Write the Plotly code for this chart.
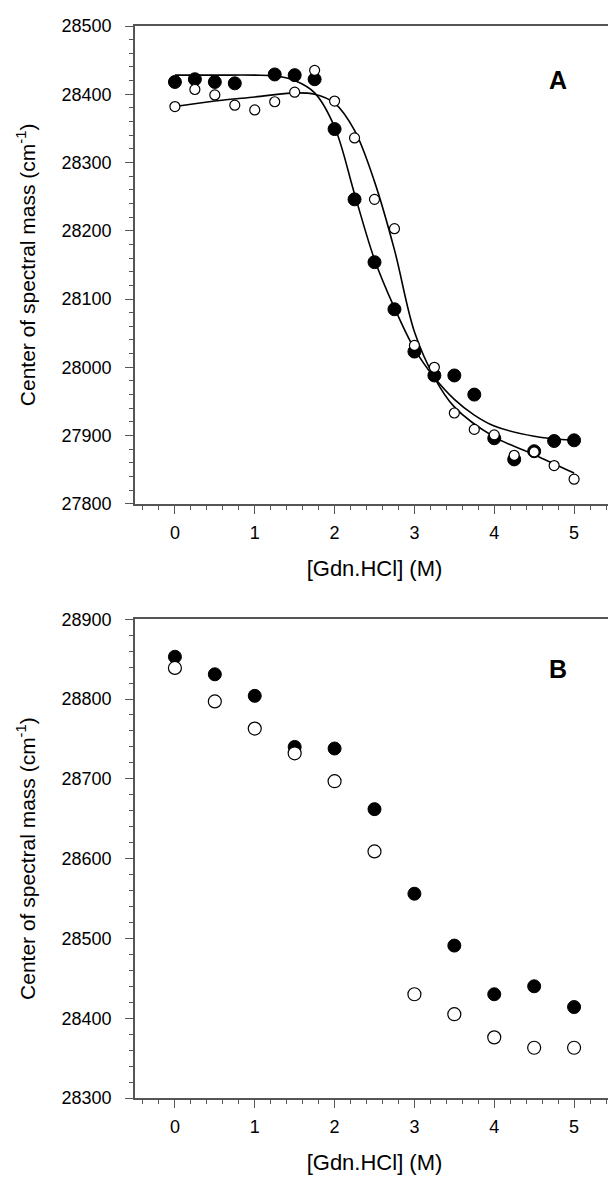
import plotly.graph_objects as go

# ---------------- data ----------------
conc_A = [0, 0.25, 0.5, 0.75, 1.0, 1.25, 1.5, 1.75, 2.0, 2.25, 2.5, 2.75,
          3.0, 3.25, 3.5, 3.75, 4.0, 4.25, 4.5, 4.75, 5.0]
filled_A = [28418, 28422, 28418, 28416, None, 28429, 28428, 28422, 28349, 28246, 28154, 28085,
            28023, 27988, 27988, 27960, 27896, 27865, 27877, 27892, 27893]
open_A = [28382, 28407, 28399, 28384, 28377, 28389, 28403, 28435, 28390, 28336, 28246, 28203,
          28032, 28000, 27933, 27909, 27901, 27871, 27876, 27856, 27836]

fit_filled_x = [0, 0.5, 1.0, 1.25, 1.5, 1.75, 2.0, 2.25, 2.5, 2.75, 3.0, 3.25, 3.5, 3.75, 4.0, 4.5, 5.0]
fit_filled_y = [28428, 28428, 28428, 28427, 28420, 28402, 28352, 28254, 28158, 28087, 28027, 27985,
                27953, 27930, 27914, 27899, 27893]
fit_open_x = [0, 0.5, 1.0, 1.5, 1.75, 2.0, 2.25, 2.5, 2.75, 3.0, 3.25, 3.5, 4.0, 4.5, 5.0]
fit_open_y = [28382, 28390, 28396, 28402, 28400, 28387, 28347, 28272, 28172, 28052, 27985, 27942,
              27898, 27872, 27845]

conc_B = [0, 0.5, 1.0, 1.5, 2.0, 2.5, 3.0, 3.5, 4.0, 4.5, 5.0]
filled_B = [28853, 28831, 28804, 28740, 28738, 28662, 28556, 28491, 28430, 28440, 28414]
open_B = [28839, 28797, 28763, 28732, 28697, 28609, 28430, 28405, 28376, 28363, 28363]

x_ticks = [0, 1, 2, 3, 4, 5]

# ---------------- figure ----------------
FONT = "Liberation Sans, Arial, sans-serif"
AX = "#555555"
fig = go.Figure()

# panel A
fig.add_trace(go.Scatter(x=fit_filled_x, y=fit_filled_y, mode="lines", line=dict(color="black", width=1.6, shape="spline"),
                         xaxis="x", yaxis="y", showlegend=False, hoverinfo="skip"))
fig.add_trace(go.Scatter(x=fit_open_x, y=fit_open_y, mode="lines", line=dict(color="black", width=1.6, shape="spline"),
                         xaxis="x", yaxis="y", showlegend=False, hoverinfo="skip"))
fig.add_trace(go.Scatter(x=conc_A, y=filled_A, mode="markers",
                         marker=dict(symbol="circle", size=13, color="black", line=dict(color="black", width=1)),
                         xaxis="x", yaxis="y", showlegend=False))
fig.add_trace(go.Scatter(x=conc_A, y=open_A, mode="markers",
                         marker=dict(symbol="circle", size=10, color="white", line=dict(color="black", width=1.2)),
                         xaxis="x", yaxis="y", showlegend=False))

# panel B
fig.add_trace(go.Scatter(x=conc_B, y=filled_B, mode="markers",
                         marker=dict(symbol="circle", size=13, color="black", line=dict(color="black", width=1)),
                         xaxis="x2", yaxis="y2", showlegend=False))
fig.add_trace(go.Scatter(x=conc_B, y=open_B, mode="markers",
                         marker=dict(symbol="circle", size=13, color="white", line=dict(color="black", width=1.2)),
                         xaxis="x2", yaxis="y2", showlegend=False))

common_x = dict(range=[-0.5, 5.5], tickvals=x_ticks, ticks="outside", ticklen=8, tickwidth=1.2, tickcolor=AX,
                showline=True, linecolor=AX, linewidth=1.5, mirror=True, showgrid=False, zeroline=False,
                tickfont=dict(size=18, color="black", family=FONT), ticklabelstandoff=4,
                minor=dict(dtick=0.2, tick0=0, ticks="outside", ticklen=4, tickcolor=AX, tickwidth=1.2, showgrid=False),
                title=dict(text="[Gdn.HCl] (M)", font=dict(size=22, color="black", family=FONT), standoff=18))
common_y = dict(ticks="outside", ticklen=8, tickwidth=1.2, tickcolor=AX, dtick=100, tickformat="d",
                showline=True, linecolor=AX, linewidth=1.5, mirror=True, showgrid=False, zeroline=False,
                tickfont=dict(size=18, color="black", family=FONT), ticklabelstandoff=10,
                minor=dict(dtick=20, ticks="outside", ticklen=4, tickcolor=AX, tickwidth=1.2, showgrid=False),
                title=dict(text="Center of spectral mass (cm<sup>-1</sup>)",
                           font=dict(size=21, color="black", family=FONT), standoff=20))

fig.update_layout(
    width=616, height=1177,
    margin=dict(l=127, r=8, t=13, b=87),
    paper_bgcolor="white", plot_bgcolor="white",
    xaxis=dict(common_x, anchor="y", domain=[0, 1]),
    yaxis=dict(common_y, range=[27800, 28500], tick0=27800, anchor="x", domain=[0.5543, 1.0]),
    xaxis2=dict(common_x, anchor="y2", domain=[0, 1]),
    yaxis2=dict(common_y, range=[28300, 28900], tick0=28300, anchor="x2", domain=[0, 0.4466]),
    annotations=[
        dict(text="<b>A</b>", x=0.884, y=0.8875, xref="x domain", yref="y domain", showarrow=False,
             font=dict(size=25, color="black", family=FONT), xanchor="center", yanchor="middle"),
        dict(text="<b>B</b>", x=0.884, y=0.896, xref="x2 domain", yref="y2 domain", showarrow=False,
             font=dict(size=25, color="black", family=FONT), xanchor="center", yanchor="middle"),
    ],
)

fig.write_html("out.html")
